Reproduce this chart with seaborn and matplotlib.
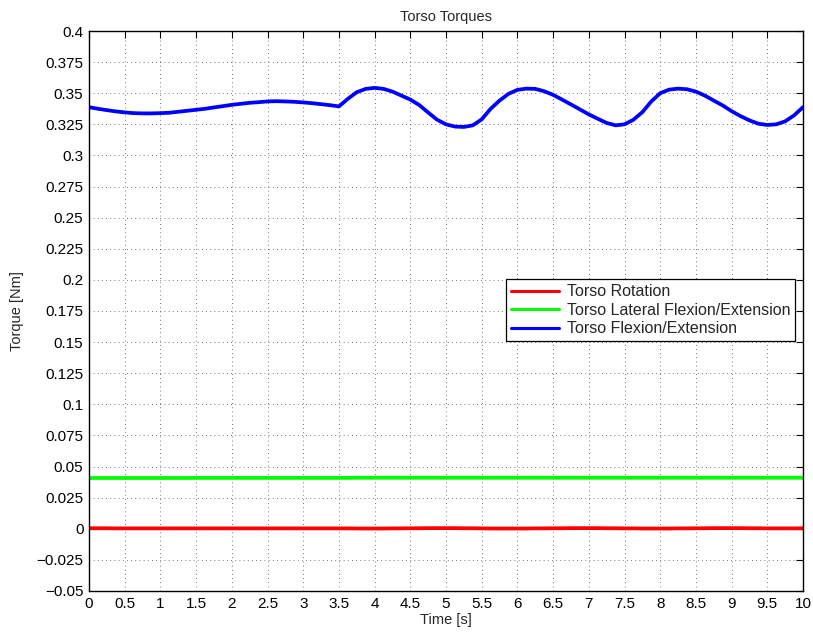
import pandas as pd
import seaborn as sns
import matplotlib
matplotlib.use('Agg')
import matplotlib.pyplot as plt
from matplotlib.ticker import MultipleLocator, FuncFormatter

# values, 0.125 s apart
time_s = [0.0, 0.125, 0.25, 0.375, 0.5, 0.625, 0.75, 0.875,
          1.0, 1.125, 1.25, 1.375, 1.5, 1.625, 1.75, 1.875,
          2.0, 2.125, 2.25, 2.375, 2.5, 2.625, 2.75, 2.875,
          3.0, 3.125, 3.25, 3.375, 3.5, 3.625, 3.75, 3.875,
          4.0, 4.125, 4.25, 4.375, 4.5, 4.625, 4.75, 4.875,
          5.0, 5.125, 5.25, 5.375, 5.5, 5.625, 5.75, 5.875,
          6.0, 6.125, 6.25, 6.375, 6.5, 6.625, 6.75, 6.875,
          7.0, 7.125, 7.25, 7.375, 7.5, 7.625, 7.75, 7.875,
          8.0, 8.125, 8.25, 8.375, 8.5, 8.625, 8.75, 8.875,
          9.0, 9.125, 9.25, 9.375, 9.5, 9.625, 9.75, 9.875, 10.0]

torso_rotation = [0.0004, 0.0004, 0.0004, 0.0003, 0.0003, 0.0003, 0.0003, 0.0003,
                  0.0003, 0.0003, 0.0003, 0.0003, 0.0003, 0.0003, 0.0003, 0.0003,
                  0.0003, 0.0003, 0.0003, 0.0003, 0.0003, 0.0003, 0.0003, 0.0003,
                  0.0003, 0.0003, 0.0003, 0.0003, 0.0003, 0.0003, 0.0002, 0.0002,
                  0.0002, 0.0002, 0.0003, 0.0003, 0.0004, 0.0004, 0.0005, 0.0005,
                  0.0005, 0.0005, 0.0004, 0.0004, 0.0003, 0.0002, 0.0002, 0.0002,
                  0.0002, 0.0002, 0.0003, 0.0003, 0.0004, 0.0004, 0.0005, 0.0005,
                  0.0005, 0.0005, 0.0004, 0.0004, 0.0003, 0.0003, 0.0002, 0.0002,
                  0.0002, 0.0002, 0.0003, 0.0003, 0.0004, 0.0004, 0.0005, 0.0005,
                  0.0005, 0.0005, 0.0004, 0.0004, 0.0003, 0.0003, 0.0003, 0.0003, 0.0004]

torso_lateral = [0.0408, 0.0408, 0.0408, 0.0408, 0.0408, 0.0408, 0.0408, 0.0408,
                 0.0408, 0.0408, 0.0408, 0.0408, 0.0409, 0.0409, 0.0409, 0.0409,
                 0.0409, 0.0409, 0.0409, 0.0409, 0.0409, 0.0409, 0.0409, 0.0409,
                 0.0409, 0.0409, 0.0409, 0.0409, 0.0409, 0.0409, 0.0410, 0.0410,
                 0.0410, 0.0410, 0.0410, 0.0410, 0.0410, 0.0410, 0.0410, 0.0410,
                 0.0410, 0.0410, 0.0410, 0.0410, 0.0410, 0.0410, 0.0410, 0.0410,
                 0.0410, 0.0410, 0.0410, 0.0410, 0.0410, 0.0410, 0.0410, 0.0410,
                 0.0410, 0.0410, 0.0410, 0.0410, 0.0410, 0.0410, 0.0410, 0.0410,
                 0.0410, 0.0410, 0.0410, 0.0410, 0.0410, 0.0410, 0.0410, 0.0410,
                 0.0410, 0.0410, 0.0410, 0.0410, 0.0410, 0.0410, 0.0410, 0.0410, 0.0410]

torso_flexion = [0.3388, 0.3375, 0.3364, 0.3354, 0.3346, 0.3340, 0.3338, 0.3338,
                 0.3340, 0.3343, 0.3351, 0.3359, 0.3367, 0.3375, 0.3386, 0.3396,
                 0.3407, 0.3415, 0.3423, 0.3428, 0.3434, 0.3436, 0.3434, 0.3431,
                 0.3426, 0.3420, 0.3412, 0.3404, 0.3394, 0.3455, 0.3508, 0.3535,
                 0.3543, 0.3535, 0.3513, 0.3481, 0.3449, 0.3405, 0.3345, 0.3287,
                 0.3250, 0.3232, 0.3229, 0.3242, 0.3290, 0.3375, 0.3441, 0.3495,
                 0.3527, 0.3537, 0.3535, 0.3516, 0.3487, 0.3449, 0.3410, 0.3370,
                 0.3330, 0.3295, 0.3261, 0.3242, 0.3250, 0.3287, 0.3348, 0.3434,
                 0.3500, 0.3529, 0.3537, 0.3532, 0.3513, 0.3481, 0.3441, 0.3402,
                 0.3356, 0.3316, 0.3282, 0.3255, 0.3245, 0.3250, 0.3274, 0.3322, 0.3388]

series_names = ['Torso Rotation', 'Torso Lateral Flexion/Extension', 'Torso Flexion/Extension']
series_colors = ['#ff0000', '#00ff00', '#0000ff']

df = pd.concat([
    pd.DataFrame({'Time': time_s, 'Torque': torso_rotation, 'Series': series_names[0]}),
    pd.DataFrame({'Time': time_s, 'Torque': torso_lateral, 'Series': series_names[1]}),
    pd.DataFrame({'Time': time_s, 'Torque': torso_flexion, 'Series': series_names[2]}),
])

sns.set_style('white')
plt.rcParams['font.family'] = ['Liberation Sans', 'DejaVu Sans']
plt.rcParams['font.size'] = 10

fig = plt.figure(figsize=(8.13, 6.38), dpi=100)
ax = fig.add_axes([0.1095, 0.0737, 0.8782, 0.8777])

sns.lineplot(data=df, x='Time', y='Torque', hue='Series', hue_order=series_names,
             palette=series_colors, linewidth=2.7, ax=ax)
for line in ax.get_lines():
    line.set_solid_joinstyle('round')

ax.set_xlim(0, 10)
ax.set_ylim(-0.05, 0.4)
ax.xaxis.set_major_locator(MultipleLocator(0.5))
ax.yaxis.set_major_locator(MultipleLocator(0.025))
fmt = FuncFormatter(lambda v, p: ('%g' % round(v, 4)).replace('-', '\u2212') if abs(v) > 1e-9 else '0')
ax.xaxis.set_major_formatter(fmt)
ax.yaxis.set_major_formatter(fmt)

ax.tick_params(direction='in', length=5, width=0.8, top=True, right=True,
               labelsize=11, colors='black', pad=4)
ax.grid(True, color='black', linestyle=(0, (1, 4)), linewidth=0.6, alpha=0.7)
for s in ax.spines.values():
    s.set_color('black')
    s.set_linewidth(1.0)

ax.set_title('Torso Torques', fontsize=10.5, pad=7)
ax.set_xlabel('Time [s]', fontsize=10.5, labelpad=2)
ax.set_ylabel('Torque [Nm]', fontsize=10.5, labelpad=9)

leg = ax.legend(loc='upper right', bbox_to_anchor=(0.989, 0.5566), fontsize=11.5,
                frameon=True, fancybox=False, edgecolor='black', framealpha=1,
                handlelength=3.0, handletextpad=0.5, borderpad=0.3,
                labelspacing=0.22, borderaxespad=0)
leg.get_frame().set_linewidth(0.9)
for line in leg.get_lines():
    line.set_linewidth(2.2)

fig.savefig('out.png', dpi=100)
